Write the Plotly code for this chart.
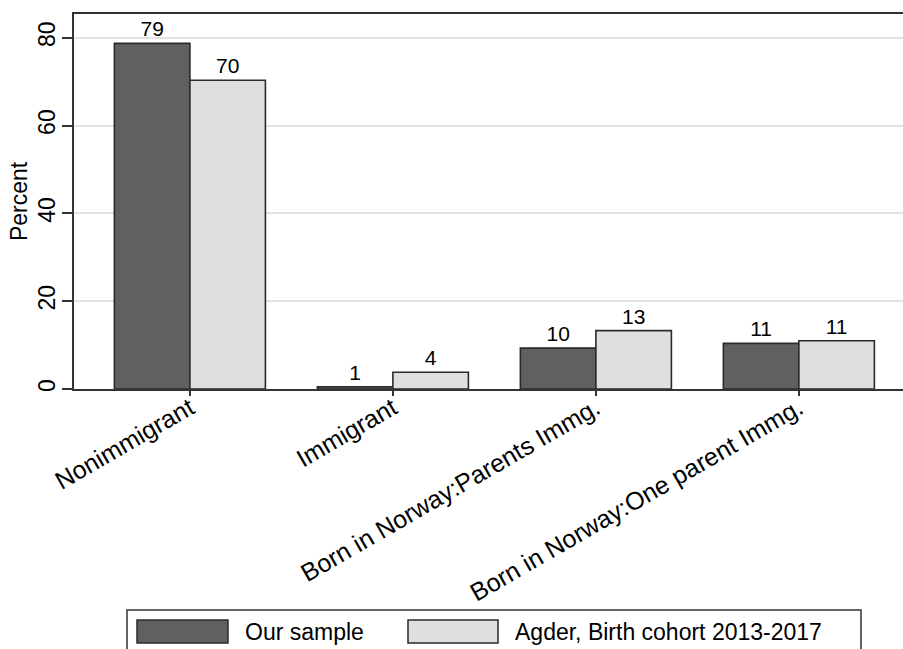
import plotly.graph_objects as go

categories = ["Nonimmigrant", "Immigrant", "Born in Norway:Parents Immg.", "Born in Norway:One parent Immg."]
series_names = ["Our sample", "Agder, Birth cohort 2013-2017"]
our_sample = [78.7, 0.5, 9.3, 10.4]
agder = [70.3, 3.8, 13.3, 11.0]
our_labels = ["79", "1", "10", "11"]
agder_labels = ["70", "4", "13", "11"]
y_ticks = [0, 20, 40, 60, 80]

FONT = "Liberation Sans, Arial, sans-serif"
DARK = "#606060"
LIGHT = "#dfdfdf"
EDGE = "#2a2a2a"
TXT = "#000000"

fig = go.Figure()
for name, vals, labels, col in [(series_names[0], our_sample, our_labels, DARK),
                                (series_names[1], agder, agder_labels, LIGHT)]:
    fig.add_trace(go.Bar(
        x=categories, y=vals, name=name, text=labels,
        textposition="outside", cliponaxis=False,
        textfont=dict(family=FONT, size=21, color=TXT),
        marker=dict(color=col, line=dict(color=EDGE, width=1.6)),
        showlegend=False,
    ))

# custom legend (large swatches like the original)
W, H = 903, 649
L, R, T, B = 74, 0, 14, 260
pw, ph = W - L - R, H - T - B
def px(x):
    return (x - L) / pw
def py(y):
    return (H - B - y) / ph

shapes = [dict(type="rect", xref="paper", yref="paper",
               x0=px(127), x1=px(861), y0=py(610), y1=py(668),
               line=dict(color="#333333", width=1.5), fillcolor="white", layer="below")]
annotations = []
swatches = [(137, 228, DARK, 243), (408, 498, LIGHT, 513)]
for (x0, x1, col, tx), name in zip(swatches, series_names):
    shapes.append(dict(type="rect", xref="paper", yref="paper",
                       x0=px(x0), x1=px(x1), y0=py(643), y1=py(620),
                       line=dict(color=EDGE, width=1.5), fillcolor=col))
    annotations.append(dict(xref="paper", yref="paper", x=px(tx), y=py(632),
                            text=name, showarrow=False, xanchor="left", yanchor="middle",
                            font=dict(family=FONT, size=23, color=TXT)))

fig.update_layout(
    width=W, height=H,
    margin=dict(l=L, r=R, t=T, b=B, autoexpand=False),
    paper_bgcolor="white", plot_bgcolor="white",
    barmode="group", bargap=0.256, bargroupgap=0,
    font=dict(family=FONT, size=21, color=TXT),
    shapes=shapes, annotations=annotations,
    xaxis=dict(
        type="category", range=[-0.571, 3.513],
        showline=True, linecolor="#333333", linewidth=2, mirror=True,
        ticks="outside", ticklen=5, tickcolor="#333333", tickwidth=1.5,
        tickangle=-30, tickfont=dict(family=FONT, size=25, color=TXT),
        ticklabelstandoff=-12,
        showgrid=False,
    ),
    yaxis=dict(
        range=[0, 85.4], tickvals=y_ticks, ticktext=[str(v) for v in y_ticks],
        showline=True, linecolor="#333333", linewidth=2,
        ticks="outside", ticklen=10, tickcolor="#333333", tickwidth=1.5,
        tickangle=-90, tickfont=dict(family=FONT, size=23, color=TXT),
        ticklabelstandoff=-2,
        showgrid=True, gridcolor="#e3e3e3", gridwidth=2,
        zeroline=False,
        title=dict(text="Percent", font=dict(family=FONT, size=23, color=TXT), standoff=0),
    ),
)

fig.write_html("out.html", config={"displayModeBar": False},
               post_script="document.body.style.margin='0';document.body.style.overflow='hidden';")
